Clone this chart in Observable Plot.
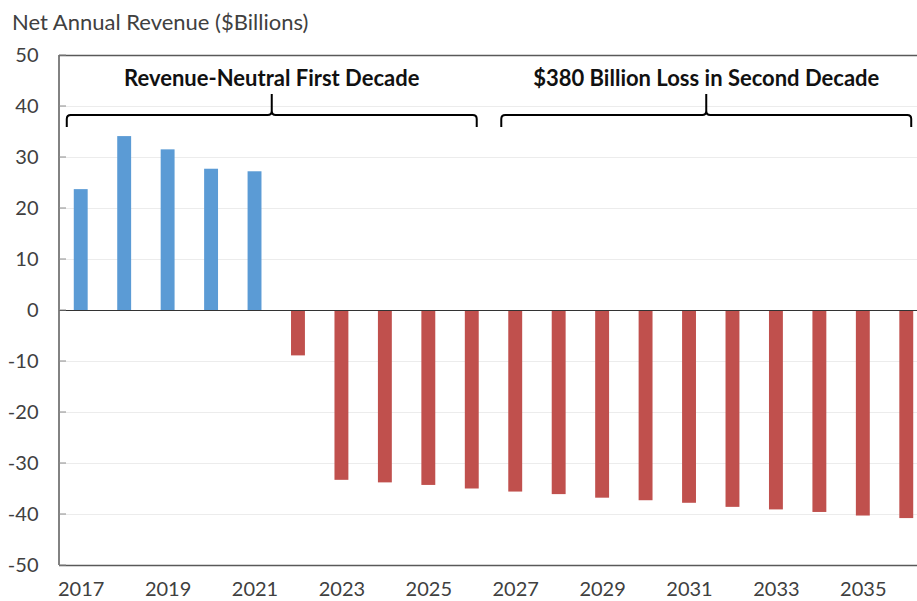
<!DOCTYPE html>
<html><head><meta charset="utf-8">
<script src="https://cdn.jsdelivr.net/npm/d3@7"></script>
<script src="https://cdn.jsdelivr.net/npm/@observablehq/plot@0.6"></script>
<style>
html,body{margin:0;padding:0;background:#fff;overflow:hidden;font-family:Lato,"Noto Sans",sans-serif;}
#title{position:absolute;left:12px;top:8px;font-size:22px;line-height:28px;color:#404040;white-space:nowrap;}
#chart{position:absolute;left:0;top:36px;}
</style></head><body>
<div id="title">Net Annual Revenue ($Billions)</div>
<div id="chart"></div>
<script>
const years = [2017,2018,2019,2020,2021,2022,2023,2024,2025,2026,2027,2028,2029,2030,2031,2032,2033,2034,2035,2036];
const revenue = [23.7,34.1,31.5,27.7,27.2,-8.9,-33.3,-33.8,-34.3,-35.0,-35.6,-36.1,-36.8,-37.3,-37.8,-38.6,-39.1,-39.6,-40.3,-40.8];
const yTicks = [-50,-40,-30,-20,-10,0,10,20,30,40,50];
const xTicks = [2017,2019,2021,2023,2025,2027,2029,2031,2033,2035];
const decadeLabels = ["Revenue-Neutral First Decade","$380 Billion Loss in Second Decade"];
const decadeStart = [2017,2027];
const decadeEnd = [2026,2036];

const data = years.map((year,i)=>({year, value: revenue[i]}));
const braces = decadeLabels.map((label,i)=>({label, start: decadeStart[i], end: decadeEnd[i]}));
const yMin = d3.min(yTicks), yMax = d3.max(yTicks);

function annotations(index, scales, values, dimensions) {
  const x = scales.x, y = scales.y;
  const bw = x.bandwidth ? x.bandwidth() : (x(years[1]) - x(years[0])) * 0.32;
  const g = d3.create("svg:g");
  const left = dimensions.marginLeft;
  g.append("line").attr("x1", left).attr("x2", left).attr("y1", y(yMax)).attr("y2", y(yMin))
    .attr("stroke", "#595959").attr("stroke-width", 1.5);
  for (const t of yTicks) {
    g.append("line").attr("x1", left).attr("x2", left + 7).attr("y1", y(t)).attr("y2", y(t))
      .attr("stroke", "#8c8c8c").attr("stroke-width", 1);
  }
  const yl = y(40) + 9;
  for (const b of braces) {
    const x1 = x(b.start) - 7, x2 = x(b.end) + bw - 2, xm = (x1 + x2) / 2, r = 4;
    const p = `M${x1},${yl+12}L${x1},${yl+r}Q${x1},${yl} ${x1+r},${yl}L${xm-r},${yl}Q${xm},${yl} ${xm},${yl-r}L${xm},${yl-21}`
      + `M${xm},${yl-r}Q${xm},${yl} ${xm+r},${yl}L${x2-r},${yl}Q${x2},${yl} ${x2},${yl+r}L${x2},${yl+12}`;
    g.append("path").attr("d", p).attr("fill", "none").attr("stroke", "#000").attr("stroke-width", 2);
    g.append("text").attr("x", xm).attr("y", yl - 29).attr("text-anchor", "middle")
      .attr("font-weight", "bold").attr("font-size", 22).attr("fill", "#111").text(b.label);
  }
  return g.node();
}

const plot = Plot.plot({
  width: 917, height: 565,
  marginLeft: 59, marginRight: -11, marginTop: 19, marginBottom: 36,
  style: {fontFamily: "Lato, 'Noto Sans', sans-serif", fontSize: "20px", color: "#404040", background: "#fff"},
  x: {type: "band", domain: years, paddingInner: 0.68, paddingOuter: 0.34, align: 0.5, round: false, axis: null, label: null},
  y: {domain: [yMin, yMax], axis: null, label: null},
  marks: [
    Plot.ruleY(yTicks.filter(d => d !== 0 && d !== yMin && d !== yMax), {stroke: "#ececec", strokeWidth: 1}),
    Plot.barY(data.filter(d => d.value >= 0), {x: "year", y: "value", fill: "#5B9BD5"}),
    Plot.barY(data.filter(d => d.value < 0), {x: "year", y: "value", fill: "#C0504D"}),
    Plot.ruleY([0], {stroke: "#333", strokeWidth: 1.2}),
    Plot.ruleY([yMin, yMax], {stroke: "#595959", strokeWidth: 1.5}),
    Plot.axisY(yTicks, {tickSize: 0, tickPadding: 21, tickFormat: d => String(d), fill: "#404040", label: null}),
    Plot.axisX(xTicks, {tickSize: 0, tickPadding: 16, tickFormat: d => String(d), fill: "#404040", label: null}),
    annotations
  ]
});
document.getElementById("chart").appendChild(plot);
</script>
</body></html>
